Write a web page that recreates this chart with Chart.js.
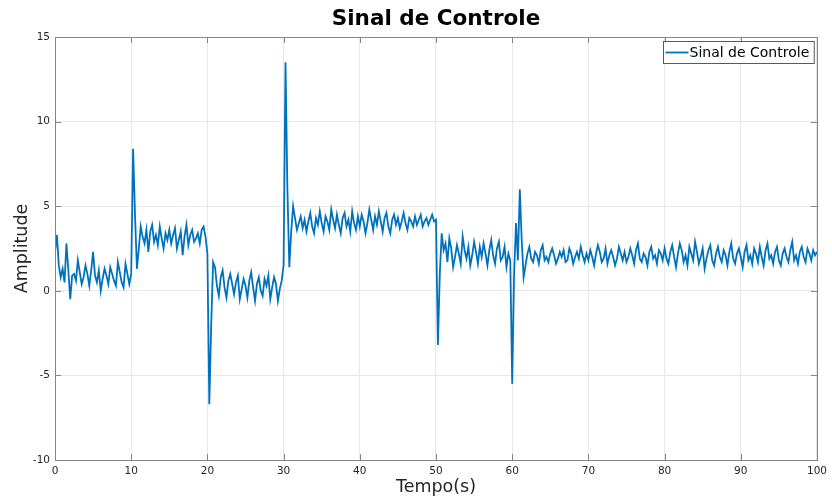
<!DOCTYPE html>
<html>
<head>
<meta charset="utf-8">
<script src="https://cdn.jsdelivr.net/npm/chart.js@4.4.1/dist/chart.umd.min.js"></script>
<style>
  html, body { margin: 0; padding: 0; background: #ffffff; }
  #wrap { width: 832px; height: 499px; }
</style>
</head>
<body>
<div id="wrap"><canvas id="c" width="832" height="499"></canvas></div>
<script>
// ---- data (sample step 0.25 s) ----
const sampleStep = 0.25;
const seg00 = [2.3, 3.3, 1.5, 0.8, 1.3, 0.5, 2.8, 1.2, -0.5, 0.9, 1.0, 0.6, 1.8, 1.1, 0.4, 0.8, 1.5, 1.0, 0.3, 1.2,
               2.3, 0.9, 0.5, 1.2, 0.0, 0.7, 1.3, 0.9, 0.4, 1.4, 1.0, 0.6, 0.3, 1.7, 1.1, 0.5, 0.2, 1.6, 1.0, 0.4];
const seg10 = [1.0, 8.4, 4.5, 1.3, 2.5, 3.8, 3.2, 2.8, 3.6, 2.3, 3.5, 3.9, 2.9, 3.3, 2.7, 3.8, 3.1, 2.5, 3.4, 3.0,
               3.6, 2.8, 3.3, 3.7, 2.5, 3.0, 3.5, 2.1, 3.2, 3.9, 2.7, 3.3, 3.6, 2.9, 3.1, 3.4, 2.8, 3.6, 3.8, 3.2];
const seg20 = [2.2, -6.7, -2.0, 1.7, 1.4, 0.3, -0.3, 0.8, 1.2, 0.2, -0.4, 0.6, 1.0, 0.4, -0.2, 0.5, 0.9, -0.5, 0.1, 0.7,
               0.3, -0.4, 0.6, 1.1, 0.2, -0.6, 0.4, 0.8, 0.0, -0.3, 0.7, 0.3, 0.9, -0.5, 0.2, 0.8, 0.4, -0.6, 0.1, 0.6];
const seg30 = [1.5, 13.5, 6.0, 1.4, 3.5, 5.0, 4.3, 3.6, 4.0, 4.4, 3.7, 4.2, 3.5, 4.1, 4.6, 3.8, 3.4, 4.3, 3.9, 4.7,
               4.0, 3.5, 4.4, 4.1, 3.6, 4.8, 4.2, 3.7, 4.5, 3.9, 3.4, 4.3, 4.6, 3.8, 4.2, 3.5, 4.7, 4.0, 3.6, 4.4];
const seg40 = [3.8, 4.5, 4.1, 3.4, 4.0, 4.8, 4.2, 3.6, 4.4, 3.9, 4.7, 4.1, 3.5, 4.3, 4.6, 3.8, 3.4, 4.2, 4.5, 3.9,
               4.3, 3.7, 4.1, 4.6, 4.0, 3.6, 4.3, 4.1, 3.8, 4.4, 3.9, 4.2, 4.5, 3.8, 4.1, 4.3, 3.9, 4.2, 4.5, 4.1];
const seg50 = [4.2, -3.2, 1.0, 3.4, 2.4, 2.8, 1.7, 3.1, 2.5, 1.4, 2.0, 2.7, 2.2, 1.6, 3.2, 2.4, 1.9, 2.6, 1.5, 2.1,
               2.9, 2.3, 1.6, 2.6, 2.0, 2.8, 2.2, 1.5, 2.4, 3.0, 2.1, 1.6, 2.5, 2.9, 1.8, 2.0, 2.6, 1.4, 2.2, 1.8];
const seg60 = [-5.5, 1.0, 4.0, 1.8, 6.0, 3.0, 0.8, 1.5, 2.2, 2.6, 1.9, 1.7, 2.3, 2.1, 1.6, 2.4, 2.7, 1.8, 2.0, 1.7,
               2.2, 2.5, 2.1, 1.6, 1.9, 2.3, 2.0, 2.4, 1.7, 1.8, 2.5, 2.2, 1.6, 2.0, 2.3, 1.9, 2.6, 2.1, 1.7, 2.2];
const seg70 = [1.8, 2.4, 2.0, 1.5, 2.2, 2.7, 2.3, 1.7, 1.9, 2.5, 1.6, 2.1, 2.4, 2.0, 1.5, 1.9, 2.6, 2.2, 1.8, 2.3,
               1.7, 2.0, 2.5, 2.1, 1.6, 2.4, 2.8, 1.9, 1.7, 2.2, 2.0, 1.5, 2.3, 2.6, 1.9, 2.1, 1.6, 2.4, 2.2, 1.8];
const seg80 = [2.5, 1.9, 1.6, 2.3, 2.7, 2.0, 1.4, 2.2, 2.8, 2.4, 1.7, 2.1, 1.5, 2.6, 2.2, 1.8, 2.9, 2.3, 1.6, 2.0,
               2.5, 1.3, 1.9, 2.4, 2.7, 1.8, 1.5, 2.2, 2.6, 2.0, 1.7, 2.4, 2.1, 1.5, 2.3, 2.8, 1.9, 1.6, 2.2, 2.5];
const seg90 = [2.0, 1.4, 2.3, 2.7, 1.8, 2.1, 1.6, 2.5, 2.2, 1.7, 2.6, 2.0, 1.5, 2.4, 2.8, 1.9, 2.1, 1.6, 2.3, 2.6,
               1.8, 1.5, 2.2, 2.5, 2.0, 1.7, 2.4, 2.9, 1.8, 2.1, 1.6, 2.3, 2.6, 2.0, 1.7, 2.5, 2.2, 1.8, 2.4, 2.1, 2.3];
const amplitude = [].concat(seg00, seg10, seg20, seg30, seg40, seg50, seg60, seg70, seg80, seg90);
const tempo = amplitude.map((_, i) => i * sampleStep);

const xTickValues = [0, 10, 20, 30, 40, 50, 60, 70, 80, 90, 100];
const yTickValues = [-10, -5, 0, 5, 10, 15];
const chartTitle = 'Sinal de Controle';
const seriesName = 'Sinal de Controle';
const xTitle = 'Tempo(s)';
const yTitle = 'Amplitude';

const FONT = "'DejaVu Sans', 'Liberation Sans', sans-serif";
const LINE_COLOR = '#0072BD';
const AXIS_COLOR = '#858585';

const boxPlugin = {
  id: 'matlabBox',
  afterDatasetsDraw(chart) {
    const { ctx, chartArea: a, scales } = chart;
    ctx.save();
    ctx.strokeStyle = AXIS_COLOR;
    ctx.lineWidth = 1;
    ctx.beginPath();
    const tl = 6;
    xTickValues.forEach(v => {
      const px = Math.round(scales.x.getPixelForValue(v)) + 0.5;
      ctx.moveTo(px, a.bottom); ctx.lineTo(px, a.bottom - tl);
      ctx.moveTo(px, a.top); ctx.lineTo(px, a.top + tl);
    });
    yTickValues.forEach(v => {
      const py = Math.round(scales.y.getPixelForValue(v)) + 0.5;
      ctx.moveTo(a.left, py); ctx.lineTo(a.left + tl, py);
      ctx.moveTo(a.right, py); ctx.lineTo(a.right - tl, py);
    });
    ctx.stroke();
    ctx.strokeRect(Math.round(a.left) + 0.5, Math.round(a.top) + 0.5,
                   Math.round(a.right - a.left), Math.round(a.bottom - a.top));
    // legend
    ctx.font = '14px ' + FONT;
    const tw = ctx.measureText(seriesName).width;
    const lineLen = 23;
    const boxW = lineLen + tw + 8;
    const boxH = 22;
    const bx = Math.round(a.right - 3 - boxW) + 0.5;
    const by = Math.round(a.top + 4) + 0.5;
    ctx.fillStyle = '#ffffff';
    ctx.fillRect(bx, by, boxW, boxH);
    ctx.strokeStyle = '#5a5a5a';
    ctx.strokeRect(bx, by, boxW, boxH);
    ctx.strokeStyle = LINE_COLOR;
    ctx.lineWidth = 1.8;
    ctx.beginPath();
    ctx.moveTo(bx + 2, by + boxH / 2);
    ctx.lineTo(bx + 2 + lineLen, by + boxH / 2);
    ctx.stroke();
    ctx.fillStyle = '#000000';
    ctx.textBaseline = 'middle';
    ctx.textAlign = 'left';
    ctx.fillText(seriesName, bx + 3 + lineLen, by + boxH / 2 + 0.5);
    ctx.restore();
  }
};

new Chart(document.getElementById('c'), {
  type: 'line',
  data: {
    datasets: [{
      label: seriesName,
      data: tempo.map((t, i) => ({ x: t, y: amplitude[i] })),
      borderColor: LINE_COLOR,
      backgroundColor: LINE_COLOR,
      borderWidth: 1.8,
      pointRadius: 0,
      tension: 0,
      fill: false
    }]
  },
  options: {
    responsive: false,
    animation: false,
    devicePixelRatio: 1,
    layout: { padding: { left: 0, right: 10, top: 0, bottom: 0 } },
    plugins: {
      legend: { display: false },
      tooltip: { enabled: false },
      title: {
        display: true,
        fullSize: false,
        text: chartTitle,
        color: '#000000',
        font: { family: FONT, size: 21.5, weight: 'bold' },
        padding: { top: 7, bottom: 4.2 }
      }
    },
    scales: {
      x: {
        type: 'linear',
        min: 0, max: 100,
        afterBuildTicks: s => { s.ticks = xTickValues.map(v => ({ value: v })); },
        afterFit: s => { s.height = 39; },
        ticks: { color: '#262626', font: { family: FONT, size: 10.5 }, padding: 5, maxRotation: 0 },
        grid: { color: '#e8e8e8', drawTicks: false },
        border: { display: false },
        title: { display: true, text: xTitle, color: '#262626',
                 font: { family: FONT, size: 17.5 }, padding: { top: 0, bottom: 1.5 } }
      },
      y: {
        type: 'linear',
        min: -10, max: 15,
        afterBuildTicks: s => { s.ticks = yTickValues.map(v => ({ value: v })); },
        afterFit: s => { s.width = 55; },
        ticks: { color: '#262626', font: { family: FONT, size: 10.5 }, padding: 5 },
        grid: { color: '#e8e8e8', drawTicks: false },
        border: { display: false },
        title: { display: true, text: yTitle, color: '#262626',
                 font: { family: FONT, size: 17.5 }, padding: { top: 11.5, bottom: 0 } }
      }
    }
  },
  plugins: [boxPlugin]
});
</script>
</body>
</html>
